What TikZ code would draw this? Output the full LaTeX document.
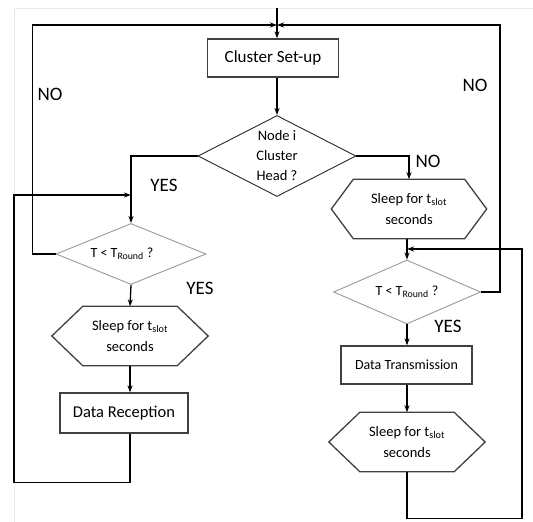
\documentclass[tikz,border=0pt]{standalone}
\usepackage{fontspec}
\setmainfont{Carlito}
\usetikzlibrary{shapes.geometric,arrows.meta}

\begin{document}
\begin{tikzpicture}[x=1pt,y=-1pt,
    box/.style={draw=black!75,line width=1.3pt,inner sep=0pt},
    hexa/.style={minimum width=156pt,minimum height=59pt,inner sep=0pt,align=center,font=\fontsize{14.5}{21}\selectfont},
    dec/.style={shape=diamond,draw=black!40,line width=0.9pt,inner sep=0pt},
    lbl/.style={font=\fontsize{19}{20}\selectfont},
    arr/.style={-{Stealth[length=7pt,width=5pt]},line width=1.3pt}]
  \useasboundingbox (0,0) rectangle (533,522);
  \draw[black!8,line width=1pt] (14,522) -- (14,8) -- (533,8);

  \coordinate (start) at (277,8);
  \coordinate (top) at (277,25);
  \coordinate (lj) at (131,195);
  \coordinate (rj) at (407,249);

  \node[box,minimum width=131pt,minimum height=38pt,font=\fontsize{17}{20}\selectfont] (setup) at (273,58) {Cluster Set-up};
  \node[dec,draw=black!85,minimum width=158pt,minimum height=81pt] (ch) at (277,156) {};
  \node[align=center,font=\fontsize{14.5}{20}\selectfont] (chtext) at (ch) {Node i\\Cluster\\Head ?};

  % cluster head side
  \node[dec,minimum width=150pt,minimum height=61pt] (ctl) at (131,254) {};
  \node[font=\fontsize{14}{16}\selectfont] (ctltext) at ([xshift=-9pt]ctl) {T < T\textsubscript{Round} ?};
  \node[hexa] (sl1) at (130,336) {Sleep for t\textsubscript{slot}\\seconds};
  \node[box,minimum width=128pt,minimum height=40pt,font=\fontsize{16.5}{20}\selectfont] (recv) at (124,413) {Data Reception};

  % member side
  \node[hexa,minimum width=155pt] (sl2) at (409,209) {Sleep for t\textsubscript{slot}\\seconds};
  \node[dec,minimum width=147pt,minimum height=64pt] (ctr) at (407,292) {};
  \node[font=\fontsize{14}{16}\selectfont] (ctrtext) at (ctr) {T < T\textsubscript{Round} ?};
  \node[box,minimum width=131pt,minimum height=38pt,font=\fontsize{14}{20}\selectfont] (send) at (406.5,365) {Data Transmission};
  \node[hexa] (sl3) at (407,442) {Sleep for t\textsubscript{slot}\\seconds};

  \foreach \h/\d in {sl1/31,sl2/22,sl3/31}
    \draw[draw=black!75,line width=1.3pt] (\h.west) -- ([xshift=\d pt]\h.north west) -- ([xshift=-\d pt]\h.north east)
      -- (\h.east) -- ([xshift=-\d pt]\h.south east) -- ([xshift=\d pt]\h.south west) -- cycle;

  \node[lbl] (no1) at (50,94) {NO};
  \node[lbl] (no2) at (475,85) {NO};
  \node[lbl] (no3) at (428,161) {NO};
  \node[lbl] (yes1) at (164,185) {YES};
  \node[lbl] (yes2) at (200,288) {YES};
  \node[lbl] (yes3) at (448,326) {YES};

  \draw[arr] (start) -- (start |- setup.north);
  \draw[arr] (ch.north |- setup.south) -- (ch.north);
  \draw[arr] (ch.west) -| (ctl.north);
  \draw[arr] (ch.east) -| (sl2.north);
  \draw[arr] (ctl.south) -- (sl1.north);
  \draw[arr] (sl1.south) -- (sl1.south |- recv.north);
  \draw[arr] (sl1.south |- recv.south) -- ++(0,49) -| ([xshift=-117pt]lj) -- (lj);
  \draw[arr] (ctl.west) -- ++(-23,0) |- (top);
  \draw[arr] (ctr.east) -- ++(19,0) |- (top);
  \draw[arr] (ctr.north |- sl2.south) -- (ctr.north);
  \draw[arr] (ctr.south) -- (ctr.south |- send.north);
  \draw[arr] (ctr.south |- send.south) -- (sl3.north);
  \draw[arr] (sl3.south) -- ++(0,47) -| ([xshift=115pt]rj) -- (rj);
\end{tikzpicture}
\end{document}
